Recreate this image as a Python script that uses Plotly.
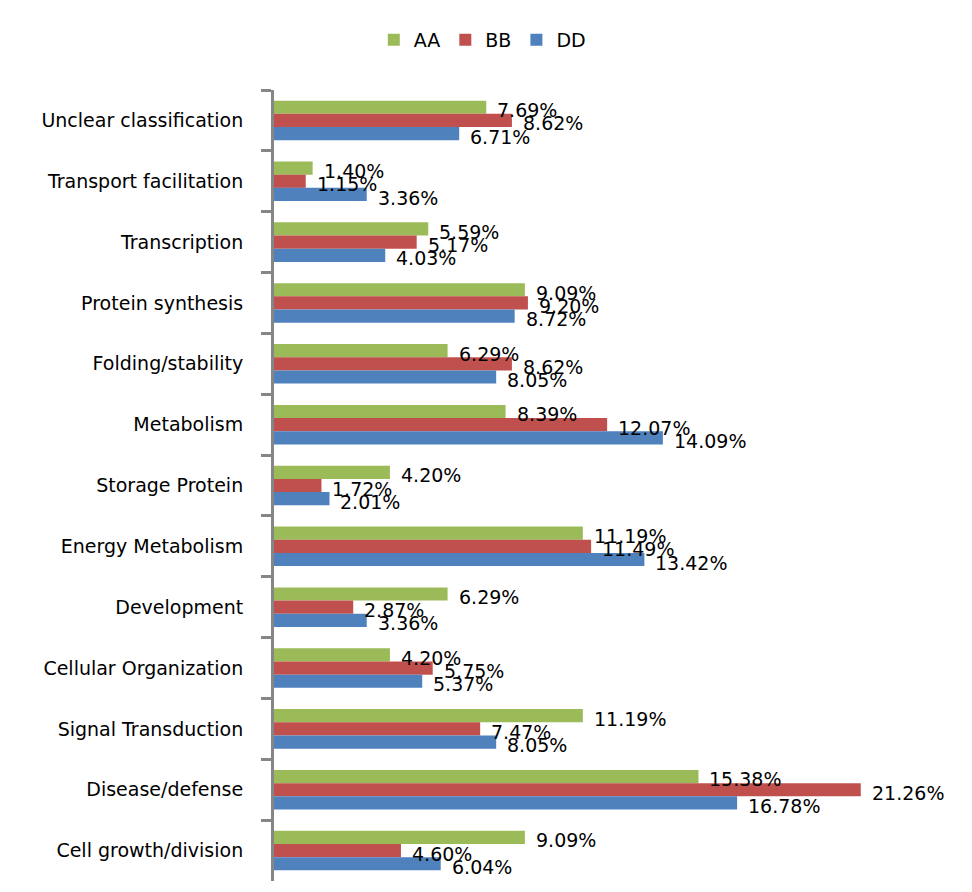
import plotly.graph_objects as go

categories = [
    "Unclear classification",
    "Transport facilitation",
    "Transcription",
    "Protein synthesis",
    "Folding/stability",
    "Metabolism",
    "Storage Protein",
    "Energy Metabolism",
    "Development",
    "Cellular Organization",
    "Signal Transduction",
    "Disease/defense",
    "Cell growth/division",
]
aa = [7.69, 1.40, 5.59, 9.09, 6.29, 8.39, 4.20, 11.19, 6.29, 4.20, 11.19, 15.38, 9.09]
bb = [8.62, 1.15, 5.17, 9.20, 8.62, 12.07, 1.72, 11.49, 2.87, 5.75, 7.47, 21.26, 4.60]
dd = [6.71, 3.36, 4.03, 8.72, 8.05, 14.09, 2.01, 13.42, 3.36, 5.37, 8.05, 16.78, 6.04]
series_names = ["AA", "BB", "DD"]
series_values = [aa, bb, dd]
series_colors = ["#9BBB59", "#C0504D", "#4F81BD"]

FONT = "DejaVu Sans"
fig = go.Figure()
for name, vals, col in zip(series_names, series_values, series_colors):
    fig.add_trace(go.Bar(
        name=name, y=categories, x=vals, orientation="h",
        marker=dict(color=col, line=dict(width=0)),
    ))

# data labels (Excel-like, placed just right of each bar end, slightly lowered)
bar_px = 13.3
for i, vals in enumerate(series_values):
    yshift = (1 - i) * bar_px - 3
    for c, v in zip(categories, vals):
        fig.add_annotation(
            x=v, y=c, xref="x", yref="y", text=f"{v:.2f}%",
            showarrow=False, xanchor="left", yanchor="middle",
            xshift=9, yshift=yshift,
            font=dict(family=FONT, size=19, color="#000000"),
        )

fig.update_layout(
    width=964, height=884,
    margin=dict(l=266, r=8, t=82, b=11, autoexpand=False),
    paper_bgcolor="white", plot_bgcolor="white",
    barmode="group", bargap=0.35, bargroupgap=0,
    font=dict(family=FONT, size=19, color="#000000"),
    showlegend=True,
    legend=dict(
        orientation="h", xref="container", yref="container",
        x=0.492, xanchor="center", y=0.964, yanchor="middle",
        font=dict(family=FONT, size=19, color="#000000"),
        itemwidth=30, tracegroupgap=0,
    ),
    xaxis=dict(visible=False, range=[0, 25], fixedrange=True),
    yaxis=dict(
        type="category", categoryorder="array", categoryarray=categories,
        autorange="reversed",
        showline=True, linecolor="#868686", linewidth=3,
        ticks="outside", tickson="boundaries", ticklen=10, tickwidth=3,
        tickcolor="#868686", ticklabelstandoff=24,
        showgrid=False, zeroline=False,
        tickfont=dict(family=FONT, size=19, color="#000000"),
    ),
)

fig.write_html("out.html")
